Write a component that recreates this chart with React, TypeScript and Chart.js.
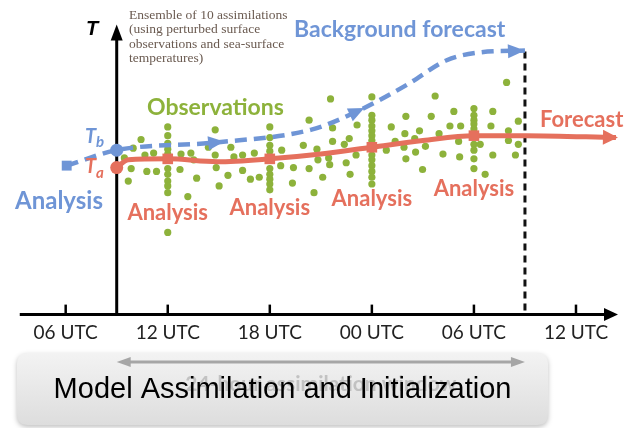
import React, { useEffect, useRef } from 'react';
import { Chart, registerables } from 'chart.js';

Chart.register(...registerables);

// ---------- axis ranges (hours since 00 UTC of day 1, temperature units) ----------
const X_MIN = 2.55;
const X_MAX = 38.47;
const Y_MIN = -11.0;
const Y_MAX = 31.8;

const tickHours = [6, 12, 18, 24, 30, 36];
const tickLabels = ['06 UTC', '12 UTC', '18 UTC', '00 UTC', '06 UTC', '12 UTC'];

const windowStart = 9;
const windowEnd = 33;
const yAxisTop = 30.0;
const windowLineTop = 27.2;

// analysis times (red squares, vertical observation columns)
const analysisHours = [12, 18, 24, 30];
const analysisLabelTemps = [10.5, 11.0, 12.0, 13.0];

// observation columns at analysis times
const column12 = [19.4, 18.5, 17.7, 17.1, 16.6, 16.1, 15.1, 14.5, 13.8, 13.3, 12.6, 8.5];
const column18 = [19.4, 18.3, 17.5, 16.9, 16.3, 16.1, 15.1, 14.5, 14.0, 13.5, 12.9];
const column24 = [22.5, 20.6, 20.1, 19.5, 19.0, 18.5, 18.0, 17.3, 16.5, 16.0, 15.4, 14.8, 14.2, 13.5];
const column30 = [21.3, 20.6, 20.1, 19.7, 19.2, 18.5, 17.6, 17.0, 16.1, 15.1];

// scattered observations
const scatterHours = [
  9.45, 9.97, 10.43, 10.66, 11.17, 9.85, 10.77, 11.34, 9.68,
  12.78, 13.36, 13.53, 12.72, 13.7, 13.18, 14.39, 14.79, 14.79, 14.85, 15.02, 15.71, 15.89, 16.4, 17.09, 15.54, 16.4, 16.86, 17.38,
  18.7, 18.64, 19.39, 19.33, 19.97, 20.31, 20.31, 20.6, 20.77, 20.83, 21.57, 21.69, 23.13, 21.69, 22.38, 22.67, 23.07, 21.46, 21.52, 22.49, 21.11, 22.72,
  24.85, 25.14, 25.37, 26.0, 25.94, 25.89, 26.0, 26.52, 26.57, 27.72, 28.82, 27.49, 28.59, 29.22, 26.8, 27.95, 29.1, 27.15, 28.18, 29.16, 26.98,
  30.37, 31.11, 31.0, 31.11, 30.66, 31.92, 32.03, 32.03, 32.61, 32.61, 32.44,
];
const scatterTemps = [
  16.2, 17.2, 18.1, 16.5, 16.7, 15.1, 14.8, 14.8, 13.8,
  16.6, 16.7, 16.0, 15.0, 14.1, 12.2, 17.3, 19.1, 16.5, 15.2, 13.3, 17.3, 16.3, 16.5, 16.7, 14.4, 14.9, 14.0, 14.2,
  17.0, 15.4, 15.2, 13.6, 17.5, 20.1, 15.1, 12.6, 17.1, 16.0, 22.3, 19.3, 19.6, 17.9, 17.6, 18.2, 16.5, 16.2, 15.5, 15.7, 14.2, 14.5,
  17.0, 19.4, 17.9, 20.5, 18.7, 17.3, 16.1, 18.2, 16.8, 22.6, 21.0, 20.5, 19.5, 19.5, 19.0, 18.7, 17.9, 17.4, 16.6, 16.3, 15.0,
  17.6, 21.0, 19.5, 16.5, 14.5, 24.0, 19.0, 18.0, 20.0, 17.6, 16.5,
];

// analysis / forecast trajectory (red)
const analysisLineHours = [9.0, 9.68, 12, 14.9, 18, 21, 24, 27, 30, 33.07, 38.35];
const analysisLineTemps = [15.2, 16.0, 16.1, 15.8, 16.1, 16.6, 17.3, 18.0, 18.5, 18.5, 18.3];

// background forecast trajectory (blue dashed)
const backgroundHours = [6.06, 9.0, 14.85, 20.4, 23.13, 26.1, 28.4, 30.3, 33.0];
const backgroundTemps = [15.4, 17.0, 17.8, 19.1, 21.0, 23.8, 26.3, 27.1, 27.3];
const backgroundArrowIdx = [2, 4];

const ensembleLines = [
  'Ensemble of 10 assimilations',
  '(using perturbed surface',
  'observations and sea-surface',
  'temperatures)',
];

const RED = '#e5705d';
const BLUE = '#6f95d6';
const GREEN = '#8db23b';
const LABEL_FONT = 'Lato, "Open Sans", sans-serif';

function arrowHead(ctx: CanvasRenderingContext2D, tx: number, ty: number, dx: number, dy: number, len: number, half: number, color: string) {
  const m = Math.hypot(dx, dy) || 1;
  const ux = dx / m;
  const uy = dy / m;
  const bx = tx - ux * len;
  const by = ty - uy * len;
  ctx.beginPath();
  ctx.moveTo(tx, ty);
  ctx.lineTo(bx - uy * half, by + ux * half);
  ctx.lineTo(bx + uy * half, by - ux * half);
  ctx.closePath();
  ctx.fillStyle = color;
  ctx.fill();
}

function roundRect(ctx: CanvasRenderingContext2D, x: number, y: number, w: number, h: number, r: number) {
  ctx.beginPath();
  ctx.moveTo(x + r, y);
  ctx.lineTo(x + w - r, y);
  ctx.quadraticCurveTo(x + w, y, x + w, y + r);
  ctx.lineTo(x + w, y + h - r);
  ctx.quadraticCurveTo(x + w, y + h, x + w - r, y + h);
  ctx.lineTo(x + r, y + h);
  ctx.quadraticCurveTo(x, y + h, x, y + h - r);
  ctx.lineTo(x, y + r);
  ctx.quadraticCurveTo(x, y, x + r, y);
  ctx.closePath();
}

const diagramPlugin = {
  id: 'diagram',
  beforeDraw(chart: any) {
    const { ctx, width, height } = chart;
    ctx.save();
    ctx.fillStyle = '#ffffff';
    ctx.fillRect(0, 0, width, height);
    ctx.restore();
  },
  beforeDatasetsDraw(chart: any) {
    const { ctx } = chart;
    const xs = chart.scales.x;
    const ys = chart.scales.y;
    const y0 = ys.getPixelForValue(0);
    ctx.save();
    // window end (dashed)
    const xw = xs.getPixelForValue(windowEnd);
    ctx.strokeStyle = '#111';
    ctx.lineWidth = 3;
    ctx.setLineDash([7, 5]);
    ctx.beginPath();
    ctx.moveTo(xw, ys.getPixelForValue(windowLineTop));
    ctx.lineTo(xw, y0);
    ctx.stroke();
    ctx.setLineDash([]);

    // T axis
    const xa = xs.getPixelForValue(windowStart);
    const yTop = ys.getPixelForValue(yAxisTop);
    ctx.strokeStyle = '#000';
    ctx.lineWidth = 3;
    ctx.beginPath();
    ctx.moveTo(xa, y0);
    ctx.lineTo(xa, yTop + 10);
    ctx.stroke();
    arrowHead(ctx, xa, yTop, 0, -1, 16, 6, '#000');

    // time axis
    const xStart = xs.getPixelForValue(3.3);
    const xEnd = xs.getPixelForValue(X_MAX);
    ctx.lineWidth = 3;
    ctx.beginPath();
    ctx.moveTo(xStart, y0);
    ctx.lineTo(xEnd - 8, y0);
    ctx.stroke();
    arrowHead(ctx, xEnd, y0, 1, 0, 14, 6.5, '#000');
    ctx.lineWidth = 2.5;
    ctx.font = '19px ' + LABEL_FONT;
    ctx.fillStyle = '#222';
    ctx.textAlign = 'center';
    ctx.textBaseline = 'middle';
    tickHours.forEach((h, i) => {
      const px = xs.getPixelForValue(h);
      ctx.beginPath();
      ctx.moveTo(px, y0);
      ctx.lineTo(px, y0 - 10);
      ctx.stroke();
      ctx.fillText(tickLabels[i], px, y0 + 18);
    });
    ctx.restore();
  },
  afterDatasetsDraw(chart: any) {
    const { ctx } = chart;
    const xs = chart.scales.x;
    const ys = chart.scales.y;
    ctx.save();

    // arrowheads on background forecast
    const bMeta = chart.getDatasetMeta(1);
    backgroundArrowIdx.forEach((i) => {
      const el = bMeta.data[i];
      const dx = el.cp2x - el.x;
      const dy = el.cp2y - el.y;
      const m = Math.hypot(dx, dy) || 1;
      arrowHead(ctx, el.x + (dx / m) * 8, el.y + (dy / m) * 8, dx, dy, 16, 7, BLUE);
    });
    const bl = bMeta.data[bMeta.data.length - 1];
    arrowHead(ctx, bl.x, bl.y, bl.x - bl.cp1x, bl.y - bl.cp1y, 17, 7, BLUE);

    // arrowhead on forecast
    const rMeta = chart.getDatasetMeta(0);
    const rl = rMeta.data[rMeta.data.length - 1];
    arrowHead(ctx, rl.x + 2, rl.y, rl.x - rl.cp1x, rl.y - rl.cp1y, 15, 7.5, RED);

    // labels
    ctx.textBaseline = 'middle';
    ctx.textAlign = 'center';
    ctx.font = 'bold 22px ' + LABEL_FONT;
    ctx.fillStyle = RED;
    analysisHours.forEach((h, i) => {
      ctx.fillText('Analysis', xs.getPixelForValue(h), ys.getPixelForValue(analysisLabelTemps[i]));
    });
    ctx.fillStyle = BLUE;
    ctx.font = 'bold 24px ' + LABEL_FONT;
    ctx.fillText('Analysis', 59, 201);

    ctx.textAlign = 'left';
    ctx.font = 'bold 23px ' + LABEL_FONT;
    ctx.fillText('Background forecast', 294, 30);
    ctx.fillStyle = GREEN;
    ctx.font = 'bold 23px ' + LABEL_FONT;
    ctx.fillText('Observations', 147, 108);
    ctx.fillStyle = RED;
    ctx.font = 'bold 22px ' + LABEL_FONT;
    ctx.fillText('Forecast', 540, 120);

    // T_b, T_a
    ctx.textBaseline = 'alphabetic';
    ctx.fillStyle = BLUE;
    ctx.font = 'italic bold 20px ' + LABEL_FONT;
    ctx.fillText('T', 85, 143);
    ctx.font = 'italic bold 15px ' + LABEL_FONT;
    ctx.fillText('b', 96, 147);
    ctx.fillStyle = RED;
    ctx.font = 'italic bold 20px ' + LABEL_FONT;
    ctx.fillText('T', 85, 173);
    ctx.font = 'italic bold 15px ' + LABEL_FONT;
    ctx.fillText('a', 96, 178);

    // axis title
    ctx.fillStyle = '#000';
    ctx.font = 'italic bold 20px "Liberation Sans", Arial, sans-serif';
    ctx.textAlign = 'center';
    ctx.fillText('T', 92, 35);

    // ensemble note
    ctx.textAlign = 'left';
    ctx.textBaseline = 'middle';
    ctx.fillStyle = '#6a5a50';
    ctx.font = '13.5px "Liberation Serif", "Times New Roman", serif';
    ensembleLines.forEach((line, i) => {
      ctx.fillText(line, 129, 15 + i * 14.5);
    });

    // bottom box
    const bx = 17, by = 353, bw = 531, bh = 72;
    ctx.save();
    ctx.shadowColor = 'rgba(0,0,0,0.25)';
    ctx.shadowBlur = 5;
    ctx.shadowOffsetY = 2;
    const g = ctx.createLinearGradient(0, by, 0, by + bh);
    g.addColorStop(0, '#f3f3f3');
    g.addColorStop(1, '#dddddd');
    roundRect(ctx, bx, by, bw, bh, 11);
    ctx.fillStyle = g;
    ctx.fill();
    ctx.restore();

    // assimilation window arrow
    const xa = xs.getPixelForValue(windowStart);
    const xw = xs.getPixelForValue(windowEnd);
    ctx.strokeStyle = '#a6a6a6';
    ctx.lineWidth = 3;
    ctx.beginPath();
    ctx.moveTo(xa + 10, 362);
    ctx.lineTo(xw - 10, 362);
    ctx.stroke();
    arrowHead(ctx, xa, 362, -1, 0, 14, 5, '#a6a6a6');
    arrowHead(ctx, xw, 362, 1, 0, 14, 5, '#a6a6a6');

    ctx.textAlign = 'center';
    ctx.fillStyle = 'rgba(160,160,160,0.55)';
    ctx.font = 'bold 21px ' + LABEL_FONT;
    ctx.fillText('24-hour assimilation window', (xa + xw) / 2, 384);

    ctx.fillStyle = '#000';
    ctx.font = '29px "Liberation Sans", Arial, sans-serif';
    ctx.textBaseline = 'alphabetic';
    ctx.fillText('Model Assimilation and Initialization', bx + bw / 2, 398);

    ctx.restore();
  },
};

export default function App() {
  const ref = useRef<HTMLCanvasElement | null>(null);

  useEffect(() => {
    if (!ref.current) return;
    const observations: { x: number; y: number }[] = [];
    [column12, column18, column24, column30].forEach((col, i) => {
      col.forEach((t) => observations.push({ x: analysisHours[i], y: t }));
    });
    scatterHours.forEach((h, i) => observations.push({ x: h, y: scatterTemps[i] }));

    const analysisData = analysisLineHours.map((h, i) => ({ x: h, y: analysisLineTemps[i] }));
    const analysisStyles = analysisLineHours.map((h, i) =>
      i === 0 ? 'circle' : analysisHours.includes(h) ? 'rect' : 'circle'
    );
    const analysisRadii = analysisLineHours.map((h, i) =>
      i === 0 ? 6.5 : analysisHours.includes(h) ? 7.5 : 0
    );

    const backgroundData = backgroundHours.map((h, i) => ({ x: h, y: backgroundTemps[i] }));
    const backgroundStyles = backgroundHours.map((_, i) => (i === 0 ? 'rect' : 'circle'));
    const backgroundRadii = backgroundHours.map((_, i) => (i === 0 ? 7 : i === 1 ? 6.5 : 0));

    const chart = new Chart(ref.current, {
      type: 'scatter',
      data: {
        datasets: [
          {
            type: 'line',
            label: 'Analysis / Forecast',
            data: analysisData,
            borderColor: RED,
            backgroundColor: RED,
            borderWidth: 5,
            showLine: true,
            cubicInterpolationMode: 'monotone',
            pointStyle: analysisStyles as any,
            pointRadius: analysisRadii,
            pointBackgroundColor: RED,
            pointBorderWidth: 0,
            order: 0,
          } as any,
          {
            type: 'line',
            label: 'Background forecast',
            data: backgroundData,
            borderColor: BLUE,
            backgroundColor: BLUE,
            borderWidth: 4.5,
            borderDash: [12, 7],
            showLine: true,
            cubicInterpolationMode: 'monotone',
            pointStyle: backgroundStyles as any,
            pointRadius: backgroundRadii,
            pointBackgroundColor: BLUE,
            pointBorderWidth: 0,
            order: 1,
          } as any,
          {
            type: 'scatter',
            label: 'Observations',
            data: observations,
            backgroundColor: GREEN,
            borderWidth: 0,
            pointRadius: 3.6,
            order: 2,
          } as any,
        ],
      },
      options: {
        animation: false,
        responsive: false,
        maintainAspectRatio: false,
        events: [],
        layout: { padding: 0 },
        plugins: { legend: { display: false }, tooltip: { enabled: false } },
        scales: {
          x: { type: 'linear', min: X_MIN, max: X_MAX, display: false },
          y: { type: 'linear', min: Y_MIN, max: Y_MAX, display: false },
        },
      },
      plugins: [diagramPlugin],
    });
    return () => chart.destroy();
  }, []);

  return (
    <div style={{ position: 'absolute', left: 0, top: 0, width: 625, height: 428 }}>
      <canvas ref={ref} width={625} height={428} style={{ display: 'block', width: 625, height: 428 }} />
    </div>
  );
}
